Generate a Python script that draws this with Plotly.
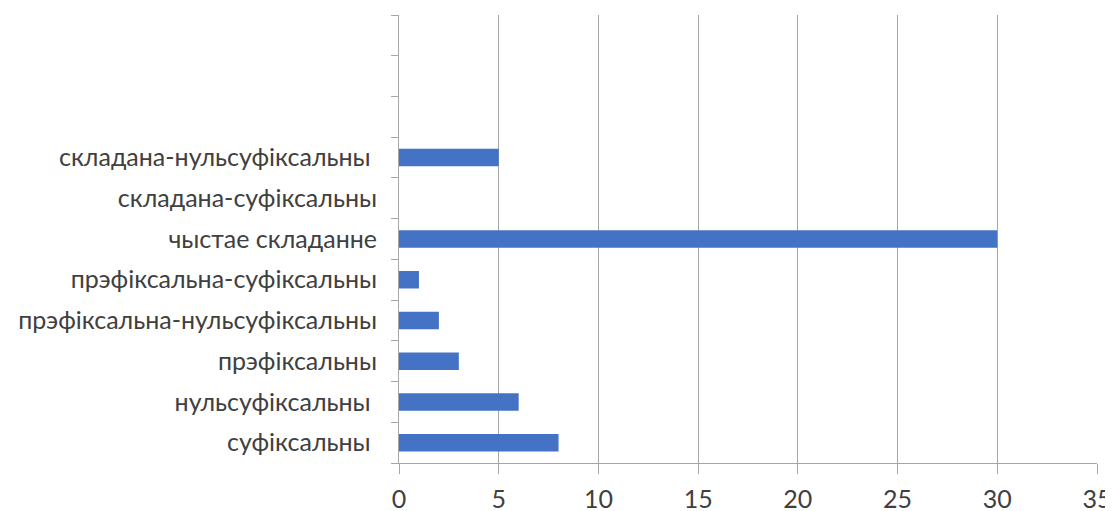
import plotly.graph_objects as go

categories = [
    "суфіксальны\u00a0",
    "нульсуфіксальны\u00a0",
    "прэфіксальны",
    "прэфіксальна-нульсуфіксальны",
    "прэфіксальна-суфіксальны",
    "чыстае складанне",
    "складана-суфіксальны",
    "складана-нульсуфіксальны\u00a0",
    "\u2007",
    "\u2007\u2007",
    "\u2007\u2007\u2007",
]
values = [8, 6, 3, 2, 1, 30, 0, 5, None, None, None]
x_ticks = [0, 5, 10, 15, 20, 25, 30, 35]

fig = go.Figure(
    go.Bar(
        x=values,
        y=categories,
        orientation="h",
        marker=dict(color="#4472C4", line=dict(width=0)),
    )
)

# page body has an 8px default margin, so the figure is sized/offset for it
fig.update_layout(
    width=1105,
    height=503,
    margin=dict(l=391, r=16, t=7, b=48),
    paper_bgcolor="white",
    plot_bgcolor="white",
    bargap=0.57,
    showlegend=False,
    font=dict(family="Lato", size=25, color="#404040"),
)

fig.update_xaxes(
    range=[0, 35],
    tickvals=x_ticks,
    automargin=False,
    showgrid=True,
    gridcolor="#a6a6a6",
    gridwidth=1,
    showline=True,
    linecolor="#a6a6a6",
    linewidth=1,
    ticks="outside",
    ticklen=10,
    tickcolor="#a6a6a6",
    ticklabelstandoff=4,
    zeroline=False,
    tickfont=dict(size=25, color="#404040"),
)

fig.update_yaxes(
    type="category",
    categoryorder="array",
    categoryarray=categories,
    range=[-0.5, 10.5],
    automargin=False,
    showline=True,
    linecolor="#a6a6a6",
    linewidth=1,
    ticks="outside",
    ticklen=7,
    tickcolor="#a6a6a6",
    tickson="boundaries",
    ticklabelstandoff=16,
    showgrid=False,
    tickfont=dict(size=25, color="#404040"),
)

fig.write_html("out.html")
